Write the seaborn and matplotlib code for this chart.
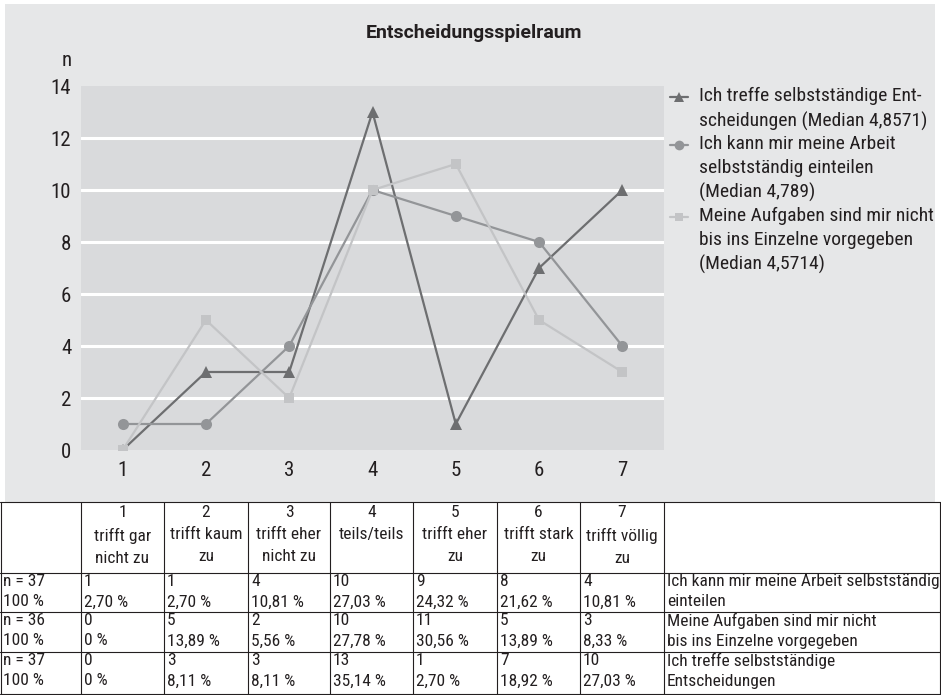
import seaborn as sns
import matplotlib.pyplot as plt
import pandas as pd
from matplotlib.patches import Rectangle
from matplotlib.lines import Line2D

# data
scale = [1, 2, 3, 4, 5, 6, 7]
arbeit = [1, 1, 4, 10, 9, 8, 4]            # circles
aufgaben = [0, 5, 2, 10, 11, 5, 3]         # squares
entscheidungen = [0, 3, 3, 13, 1, 7, 10]   # triangles

scale_labels = ["trifft gar\nnicht zu", "trifft kaum\nzu", "trifft eher\nnicht zu",
                "teils/teils", "trifft eher\nzu", "trifft stark\nzu", "trifft völlig\nzu"]
pct_arbeit = ["2,70 %", "2,70 %", "10,81 %", "27,03 %", "24,32 %", "21,62 %", "10,81 %"]
pct_aufgaben = ["0 %", "13,89 %", "5,56 %", "27,78 %", "30,56 %", "13,89 %", "8,33 %"]
pct_entsch = ["0 %", "8,11 %", "8,11 %", "35,14 %", "2,70 %", "18,92 %", "27,03 %"]

legend_labels = ["Ich treffe selbstständige Ent-\nscheidungen (Median 4,8571)",
                 "Ich kann mir meine Arbeit\nselbstständig einteilen\n(Median 4,789)",
                 "Meine Aufgaben sind mir nicht\nbis ins Einzelne vorgegeben\n(Median 4,5714)"]

c_tri, c_circ, c_sq = "#6d6e70", "#939598", "#c3c4c6"
FONT = ["Roboto Condensed", "Roboto", "DejaVu Sans"]

sns.set_style("white")
plt.rcParams["font.family"] = FONT

W, H = 941, 695
fig = plt.figure(figsize=(W / 100, H / 100), dpi=100)

# background / overlay axes in pixel coordinates
bg = fig.add_axes([0, 0, 1, 1], zorder=0)
bg.set_xlim(0, W)
bg.set_ylim(H, 0)
bg.axis("off")
bg.add_patch(Rectangle((5, 4), 930, 498, facecolor="#e6e7e8", edgecolor="none"))

ax = fig.add_axes([81 / W, 1 - 450 / H, 583 / W, 364 / H], zorder=1)
ax.set_facecolor("#d9dadc")

df = pd.DataFrame({"x": scale * 3,
                   "n": entscheidungen + arbeit + aufgaben,
                   "s": ["t"] * 7 + ["c"] * 7 + ["q"] * 7})
for key, col, mk, ms in [("t", c_tri, "^", 8), ("c", c_circ, "o", 8), ("q", c_sq, "s", 7)]:
    sns.lineplot(data=df[df.s == key], x="x", y="n", color=col, marker=mk,
                 markersize=ms, markeredgewidth=0, linewidth=1.6, ax=ax, zorder=3)

ax.set_xlim(0.5, 7.5)
ax.set_ylim(0, 14)
ax.set_yticks(range(0, 15, 2))
ax.set_xticks(scale)
ax.set_xlabel("")
ax.set_ylabel("")
for y in range(2, 14, 2):
    ax.axhline(y, color="white", lw=2.2, zorder=1)
for s in ax.spines.values():
    s.set_visible(False)
ax.tick_params(axis="both", length=0, labelsize=15, colors="#231f20")
ax.tick_params(axis="y", pad=7)
ax.tick_params(axis="x", pad=8)

# title and y label
bg.text(474, 33, "Entscheidungsspielraum", ha="center", va="center",
        fontsize=14, fontweight="bold", color="#231f20", family=["Roboto", "DejaVu Sans"])
bg.text(67, 60, "n", ha="center", va="center", fontsize=15, color="#231f20")

# legend
leg_y = [97, 145, 217]
for y0, col, mk, ms, lab in zip(leg_y, [c_tri, c_circ, c_sq], ["^", "o", "s"], [7, 7, 6],
                                legend_labels):
    bg.add_line(Line2D([670, 688], [y0, y0], color=col, lw=1.6))
    bg.plot([679], [y0], marker=mk, color=col, markersize=ms, markeredgewidth=0)
    bg.text(699, y0 - 10, lab, ha="left", va="top", fontsize=14, color="#231f20",
            linespacing=1.42)

# table
tb_top, tb_bottom = 502, 694
bg.add_patch(Rectangle((0, tb_top), W, tb_bottom - tb_top, facecolor="white",
                       edgecolor="none"))
col_x = [0, 81, 164, 248, 330, 413, 497, 580, 664, 941]
row_y = [tb_top, 573, 612, 652, tb_bottom]
lc = "#231f20"
for y in row_y:
    bg.add_line(Line2D([0, W], [y, y], color=lc, lw=0.8))
for x in col_x[1:-1]:
    bg.add_line(Line2D([x, x], [tb_top, tb_bottom], color=lc, lw=0.8))
bg.add_line(Line2D([0.5, 0.5], [tb_top, tb_bottom], color=lc, lw=0.8))
bg.add_line(Line2D([940.5, 940.5], [tb_top, tb_bottom], color=lc, lw=0.8))

tfs = 12.5
for i, (k, lab) in enumerate(zip(scale, scale_labels)):
    cx = (col_x[i + 1] + col_x[i + 2]) / 2
    bg.text(cx, 505, f"{k}\n{lab}", ha="center", va="top", fontsize=tfs, color=lc,
            linespacing=1.58)

rows = [("n = 37", arbeit, pct_arbeit, "Ich kann mir meine Arbeit selbstständig\neinteilen"),
        ("n = 36", aufgaben, pct_aufgaben, "Meine Aufgaben sind mir nicht\nbis ins Einzelne vorgegeben"),
        ("n = 37", entscheidungen, pct_entsch, "Ich treffe selbstständige\nEntscheidungen")]
tls = 1.45
for r, (ntxt, vals, pcts, desc) in enumerate(rows):
    y0 = row_y[r + 1] + 1
    bg.text(3, y0, f"{ntxt}\n100 %", ha="left", va="top", fontsize=tfs, color=lc,
            linespacing=tls)
    for i, (v, p) in enumerate(zip(vals, pcts)):
        bg.text(col_x[i + 1] + 3, y0, f"{v}\n{p}", ha="left", va="top", fontsize=tfs,
                color=lc, linespacing=tls)
    bg.text(col_x[8] + 3, y0, desc, ha="left", va="top", fontsize=tfs, color=lc,
            linespacing=tls)

fig.savefig("out.png", dpi=100)
